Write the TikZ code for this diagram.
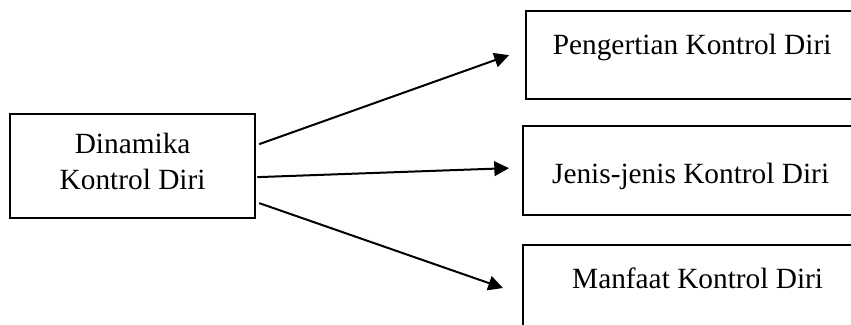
\documentclass[tikz,border=0pt]{standalone}
\usepackage{fontspec}
\setmainfont{Liberation Serif}
\usepackage{tikz}
\usetikzlibrary{calc,arrows.meta}

\begin{document}
\begin{tikzpicture}[x=0.75pt,y=-0.75pt,
	box/.style={draw,line width=1.7pt,rectangle,inner xsep=0pt,inner ysep=0pt,anchor=north west},
	link/.style={line width=1.5pt,-{Triangle[length=11pt,width=11pt]}}]

% ---------- Size of the picture ----------
\def\PicWidth{851}
\def\PicHeight{325}
\clip (0,0) rectangle (\PicWidth,\PicHeight);

% ---------- Font ----------
\def\BoxFont{\fontsize{22}{27}\selectfont}

% ---------- Boxes ----------
% Left box: dynamics of self-control
\node[box,align=center,font=\BoxFont,minimum width=183.75pt,minimum height=78pt,text depth=7.5pt]
	(dinamika) at (9,113) {Dinamika\\Kontrol Diri};

% Right boxes (cut off by the right edge)
\node[box,font=\BoxFont,minimum width=249pt,text height=32.25pt,text depth=33.75pt]
	(pengertian) at (525,10) {Pengertian Kontrol Diri};
\node[box,font=\BoxFont,minimum width=251.25pt,text height=42.75pt,text depth=24pt]
	(jenis) at (522,125) {Jenis-jenis Kontrol Diri};
\node[box,font=\BoxFont,minimum width=261.75pt,text height=32.25pt,text depth=34.5pt]
	(manfaat) at (522,244) {Manfaat Kontrol Diri};

% ---------- Arrows ----------
\draw[link] ($(dinamika.east)+(3,-22)$) -- ($(pengertian.west)+(-16,0)$);
\draw[link] ($(dinamika.east)+(1,11)$) -- ($(jenis.west)+(-13,-2.5)$);
\draw[link] ($(dinamika.east)+(3,37)$) -- ($(manfaat.north west)+(-19,44)$);

\end{tikzpicture}
\end{document}
